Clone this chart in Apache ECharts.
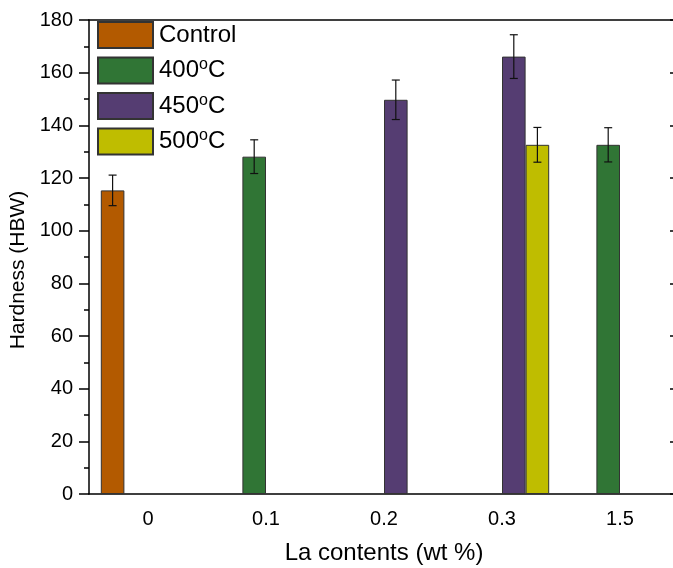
<!DOCTYPE html>
<html>
<head>
<meta charset="utf-8">
<script src="https://cdn.jsdelivr.net/npm/echarts@6/dist/echarts.min.js"></script>
<style>
  html, body { margin: 0; padding: 0; background: #fff; }
  #chart { width: 673px; height: 568px; }
</style>
</head>
<body>
<div id="chart"></div>
<script>
// La contents on the x axis
var categories = ['0', '0.1', '0.2', '0.3', '1.5'];

// hardness values (HBW), one array per heat treatment
var control = [115.3, null, null, null, null];
var t400 = [null, 128.1, null, null, 132.6];
var t450 = [null, null, 149.7, 166.1, null];
var t500 = [null, null, null, 132.6, null];

// error bar half widths
var controlErr = [5.8, null, null, null, null];
var t400Err = [null, 6.4, null, null, 6.5];
var t450Err = [null, null, 7.5, 8.3, null];
var t500Err = [null, null, null, 6.6, null];

var seriesNames = ['Control', '400°C', '450°C', '500°C'];
var colors = ['#b35a00', '#307535', '#553d72', '#bfbd00'];

var chart = echarts.init(document.getElementById('chart'));
var FONT = 'Liberation Sans, Arial, sans-serif';

// flatten values + errors for the custom error bar series
var allValues = [control, t400, t450, t500];
var allErrs = [controlErr, t400Err, t450Err, t500Err];
var errData = [];
for (let s = 0; s < 4; s++)
{
    for (let i = 0; i < categories.length; i++)
    {
        if (allValues[s][i] != null)
            errData.push([i, allValues[s][i], allErrs[s][i], s]);
    }
}

function renderErr(params, api)
{
    var idx = api.value(0), val = api.value(1), err = api.value(2), s = api.value(3);
    var band = api.size([1, 0])[0];
    var barW = band * 0.8 / 4;
    var off = (s - 1.5) * barW;
    var top = api.coord([idx, val + err]);
    var bot = api.coord([idx, val - err]);
    var x = top[0] + off, cap = 4;
    var style = { stroke: '#111', lineWidth: 1.2 };
    return {
        type: 'group',
        children: [
            { type: 'line', shape: { x1: x, y1: top[1], x2: x, y2: bot[1] }, style: style },
            { type: 'line', shape: { x1: x - cap, y1: top[1], x2: x + cap, y2: top[1] }, style: style },
            { type: 'line', shape: { x1: x - cap, y1: bot[1], x2: x + cap, y2: bot[1] }, style: style }
        ]
    };
}

var axisLine = { show: true, lineStyle: { color: '#000', width: 1.5 } };
var tickStyle = { color: '#000', width: 1.5 };

function barSeries(name, data, color)
{
    return {
        name: name,
        type: 'bar',
        data: data,
        barGap: '0%',
        barCategoryGap: '20%',
        itemStyle: { color: color, borderColor: '#333', borderWidth: 1 },
        emphasis: { disabled: true }
    };
}

var option = {
    animation: false,
    textStyle: { fontFamily: FONT },
    grid: { left: 89, top: 20, width: 590, height: 474, outerBoundsMode: 'none', containLabel: false },
    legend: {
        orient: 'vertical',
        left: 97,
        top: 21,
        padding: 0,
        itemWidth: 55,
        itemHeight: 26,
        itemGap: 7.5,
        icon: 'rect',
        data: seriesNames,
        formatter: function(name) {
            return name.replace('°', '{sup|o}');
        },
        textStyle: {
            fontFamily: FONT,
            fontSize: 24,
            color: '#000',
            padding: [0, 0, 0, 1],
            rich: {
                sup: { fontFamily: FONT, fontSize: 16, color: '#000', padding: [0, 0, 11, 0] }
            }
        }
    },
    xAxis: [
        {
            type: 'category',
            position: 'bottom',
            data: categories,
            axisLine: axisLine,
            axisTick: { alignWithLabel: true, length: 10, lineStyle: tickStyle },
            axisLabel: { fontFamily: FONT, fontSize: 20, color: '#000', margin: 15 },
            name: 'La contents (wt %)',
            nameLocation: 'middle',
            nameGap: 47,
            nameTextStyle: { fontFamily: FONT, fontSize: 24, color: '#000' }
        },
        {
            type: 'category',
            position: 'bottom',
            data: categories,
            axisLine: { show: false },
            axisTick: { alignWithLabel: false, length: 5, lineStyle: tickStyle },
            axisLabel: { show: false }
        },
        {
            type: 'category',
            position: 'top',
            data: categories,
            axisLine: axisLine,
            axisTick: { inside: true, alignWithLabel: true, length: 9, lineStyle: tickStyle },
            axisLabel: { show: false }
        },
        {
            type: 'category',
            position: 'top',
            data: categories,
            axisLine: { show: false },
            axisTick: { inside: true, alignWithLabel: false, length: 4, lineStyle: tickStyle },
            axisLabel: { show: false }
        }
    ],
    yAxis: [
        {
            type: 'value',
            position: 'left',
            min: 0,
            max: 180,
            interval: 20,
            axisLine: axisLine,
            axisTick: { show: true, length: 10, lineStyle: tickStyle },
            minorTick: { show: true, splitNumber: 2, length: 5, lineStyle: tickStyle },
            splitLine: { show: false },
            axisLabel: { fontFamily: FONT, fontSize: 20, color: '#000', margin: 16 },
            name: 'Hardness (HBW)',
            nameLocation: 'middle',
            nameGap: 58,
            nameTextStyle: { fontFamily: FONT, fontSize: 21, color: '#000', padding: [0, 26, 0, 0] }
        },
        {
            type: 'value',
            position: 'right',
            min: 0,
            max: 180,
            interval: 20,
            axisLine: axisLine,
            axisTick: { show: true, inside: true, length: 9, lineStyle: tickStyle },
            splitLine: { show: false },
            axisLabel: { show: false }
        }
    ],
    series: [
        barSeries(seriesNames[0], control, colors[0]),
        barSeries(seriesNames[1], t400, colors[1]),
        barSeries(seriesNames[2], t450, colors[2]),
        barSeries(seriesNames[3], t500, colors[3]),
        {
            type: 'custom',
            name: 'err',
            renderItem: renderErr,
            data: errData,
            encode: { x: 0, y: 1 },
            z: 10,
            silent: true
        }
    ]
};

chart.setOption(option);
</script>
</body>
</html>
